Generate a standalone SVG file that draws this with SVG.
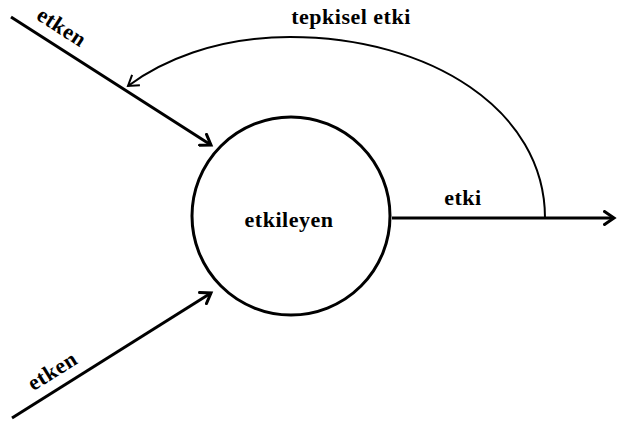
<svg xmlns="http://www.w3.org/2000/svg" width="617" height="425" viewBox="0 0 617 425">
<style>
.t{font-family:"Liberation Serif","DejaVu Serif",serif;font-weight:bold;font-size:22px;letter-spacing:0.5px;fill:#000}
.thick{stroke:#000;stroke-width:3;fill:none}
.thin{stroke:#000;stroke-width:2;fill:none}
</style>
<defs>
<marker id="ah" markerWidth="14" markerHeight="16" refX="11" refY="8" orient="auto" markerUnits="userSpaceOnUse">
<path d="M1.5,1.5 L11,8 L1.5,14.5" fill="none" stroke="#000" stroke-width="3" stroke-linecap="round"/>
</marker>
<marker id="ah2" markerWidth="14" markerHeight="16" refX="11" refY="8" orient="auto" markerUnits="userSpaceOnUse">
<path d="M1,1.5 L11,8 L1,14.5" fill="none" stroke="#000" stroke-width="2"/>
</marker>
</defs>
<rect width="617" height="425" fill="#fff"/>
<g id="etkileyen">
<circle cx="291" cy="216" r="99" class="thick"/>
<text class="t" x="289" y="227" text-anchor="middle">etkileyen</text>
</g>
<g id="connectors">
<line x1="11" y1="17" x2="211" y2="145" class="thick" marker-end="url(#ah)"/>
<line x1="12" y1="418" x2="211" y2="293" class="thick" marker-end="url(#ah)"/>
<line x1="392" y1="218" x2="614" y2="218" class="thick" marker-end="url(#ah)"/>
<path d="M545,218 C545,110 430,37 290,37 C215,37 160,62 128,86" class="thin" marker-end="url(#ah2)"/>
</g>
<g id="labels">
<text class="t" transform="translate(61,28) rotate(33)" y="6" text-anchor="middle">etken</text>
<text class="t" transform="translate(53,372) rotate(-32)" y="6" text-anchor="middle">etken</text>
<text class="t" x="351" y="24" text-anchor="middle">tepkisel etki</text>
<text class="t" x="463" y="205" text-anchor="middle">etki</text>
</g>
</svg>
